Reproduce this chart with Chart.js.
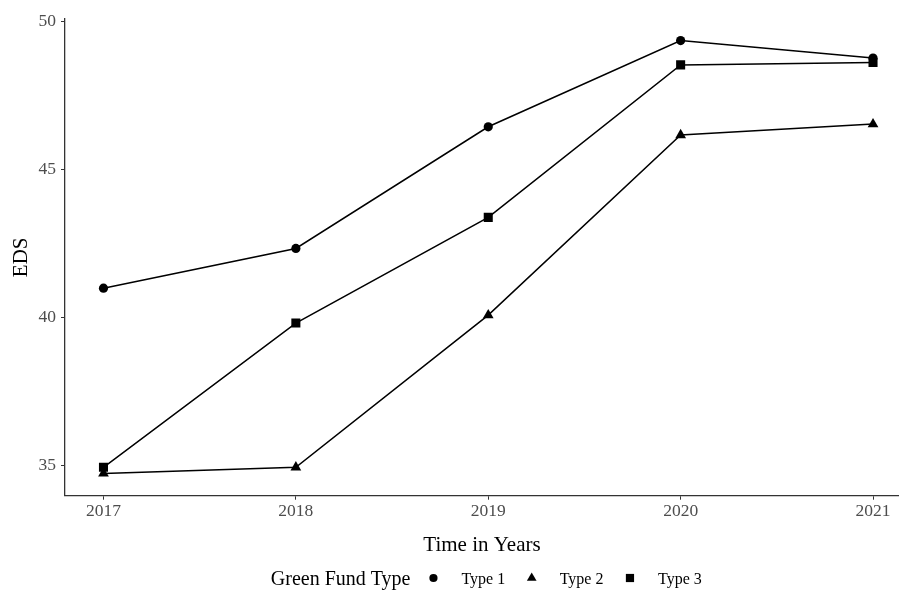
<!DOCTYPE html>
<html>
<head>
<meta charset="utf-8">
<title>EDS by Green Fund Type</title>
<script src="https://cdn.jsdelivr.net/npm/chart.js@4.4.1/dist/chart.umd.min.js"></script>
<style>
    html, body { margin: 0; padding: 0; background: #fff; }
    .chart-container { position: relative; width: 899px; height: 590px; }
</style>
</head>
<body>
<div class="chart-container">
    <canvas id="edsChart"></canvas>
</div>
<script>
    const years = [2017, 2018, 2019, 2020, 2021];
    const type1 = [41.0, 42.34, 46.45, 49.36, 48.77];
    const type2 = [34.74, 34.95, 40.09, 46.17, 46.54];
    const type3 = [34.95, 39.82, 43.39, 48.54, 48.62];
    const yTicks = [35, 40, 45, 50];
    const seriesNames = ['Type 1', 'Type 2', 'Type 3'];
    const legendTitle = 'Green Fund Type';

    const serif = '"Liberation Serif", "DejaVu Serif", serif';
    const axisColor = '#333333';

    // shape + size per series, chart marker radius and legend marker radius
    const shapes = [
        { style: 'circle', r: 4.6, lr: 4.1 },
        { style: 'triangle', r: 6.2, lr: 5.6 },
        { style: 'rect', r: 6.4, lr: 5.8 }
    ];

    function makeDataset(name, values, i) {
        return {
            label: name,
            data: values.map((v, k) => ({ x: years[k], y: v })),
            borderColor: '#000',
            backgroundColor: '#000',
            borderWidth: 1.5,
            tension: 0,
            pointStyle: shapes[i].style,
            pointRadius: shapes[i].r,
            pointHoverRadius: shapes[i].r,
            pointBorderWidth: 0,
            pointBackgroundColor: '#000'
        };
    }

    // ggplot-style legend on one line: title, then marker + label for each series
    const fundLegend = {
        id: 'fundLegend',
        afterDraw(chart) {
            const ctx = chart.ctx;
            ctx.save();
            const titleFont = '20px ' + serif;
            const labelFont = '16px ' + serif;
            ctx.font = titleFont;
            const titleW = ctx.measureText(legendTitle).width;
            ctx.font = labelFont;
            const labelW = seriesNames.map(n => ctx.measureText(n).width);
            const gapTitle = 23, gapMarker = 28, gapItem = 26.5;
            let total = titleW + gapTitle;
            labelW.forEach((w, i) => {
                total += gapMarker + w + (i < labelW.length - 1 ? gapItem : 0);
            });
            const cx = chart.scales.x.getPixelForValue(2019) - 2;
            let x = cx - total / 2;
            const yText = 585, yMark = 578;

            ctx.fillStyle = '#000';
            ctx.textBaseline = 'alphabetic';
            ctx.textAlign = 'left';
            ctx.font = titleFont;
            ctx.fillText(legendTitle, x, yText);
            x += titleW + gapTitle;

            ctx.font = labelFont;
            seriesNames.forEach((name, i) => {
                ctx.fillStyle = '#000';
                Chart.helpers.drawPoint(ctx, {
                    pointStyle: shapes[i].style,
                    radius: shapes[i].lr,
                    rotation: 0,
                    borderWidth: 0
                }, x, yMark);
                ctx.fillStyle = '#000';
                ctx.fillText(name, x + gapMarker, yText - 1);
                x += gapMarker + labelW[i] + gapItem;
            });
            ctx.restore();
        }
    };

    const ctx = document.getElementById('edsChart').getContext('2d');

    new Chart(ctx, {
        type: 'line',
        data: {
            datasets: [
                makeDataset(seriesNames[0], type1, 0),
                makeDataset(seriesNames[1], type2, 1),
                makeDataset(seriesNames[2], type3, 2)
            ]
        },
        options: {
            responsive: true,
            maintainAspectRatio: false,
            animation: false,
            layout: {
                autoPadding: false,
                padding: { top: 19, bottom: 32, left: 0, right: 0 }
            },
            plugins: {
                legend: { display: false },
                tooltip: { enabled: false }
            },
            scales: {
                x: {
                    type: 'linear',
                    min: 2016.8,
                    max: 2021.135,
                    afterBuildTicks: scale => {
                        scale.ticks = years.map(v => ({ value: v }));
                    },
                    afterFit: scale => {
                        scale.height = 62.3;
                        // plot runs to the right edge, as in the cropped original
                        scale.paddingRight = 0;
                        scale.paddingLeft = 0;
                    },
                    ticks: {
                        callback: v => String(v),
                        font: { family: serif, size: 17.5 },
                        color: '#4d4d4d',
                        padding: 1,
                        maxRotation: 0
                    },
                    grid: {
                        display: true,
                        drawOnChartArea: false,
                        drawTicks: true,
                        tickLength: 4,
                        color: axisColor,
                        lineWidth: 1
                    },
                    border: { display: true, color: axisColor, width: 1.3 },
                    title: {
                        display: true,
                        text: 'Time in Years',
                        font: { family: serif, size: 21 },
                        color: '#000',
                        padding: 0
                    }
                },
                y: {
                    min: 33.99,
                    max: 50.09,
                    afterBuildTicks: scale => {
                        scale.ticks = yTicks.map(v => ({ value: v }));
                    },
                    afterFit: scale => { scale.width = 65; },
                    ticks: {
                        font: { family: serif, size: 17.5 },
                        color: '#4d4d4d',
                        padding: 5
                    },
                    grid: {
                        display: true,
                        drawOnChartArea: false,
                        drawTicks: true,
                        tickLength: 4,
                        color: axisColor,
                        lineWidth: 1
                    },
                    border: { display: true, color: axisColor, width: 1.3 },
                    title: {
                        display: true,
                        text: 'EDS',
                        font: { family: serif, size: 21 },
                        color: '#000',
                        padding: { top: 9, bottom: 0 }
                    }
                }
            }
        },
        plugins: [fundLegend]
    });
</script>
</body>
</html>
